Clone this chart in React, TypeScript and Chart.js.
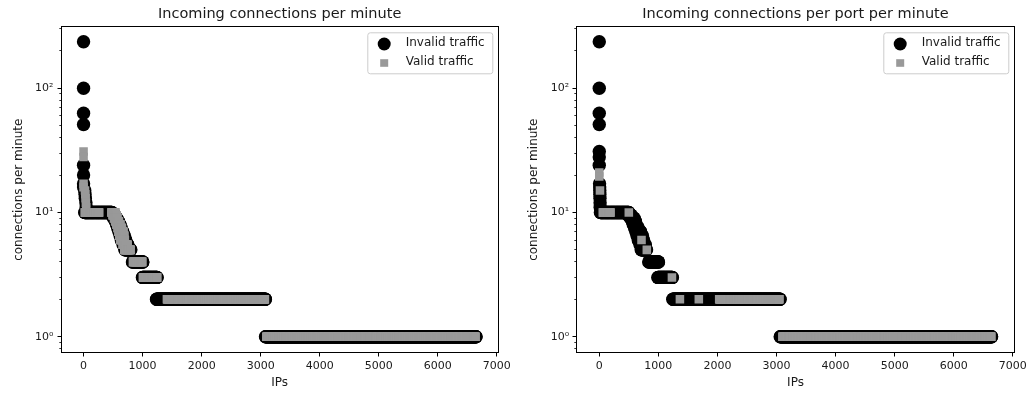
import React, { useEffect, useRef } from "react";
import { Chart, registerables } from "chart.js";

Chart.register(...registerables);

const FONT = "'DejaVu Sans', sans-serif";
const TEXT = "#1a1a1a";
const INVALID_COLOR = "#000000";
const VALID_COLOR = "#999999";
const SERIES_NAMES = ["Invalid traffic", "Valid traffic"];

// Axis ranges and ticks
const X_MIN = -382;
const X_MAX = 7025;
const Y_MIN = 0.743;
const Y_MAX = 313;
const xTickValues = [0, 1000, 2000, 3000, 4000, 5000, 6000, 7000];
const yTickValues = [1, 10, 100];
const yTickLabels = ["10\u2070", "10\u00b9", "10\u00b2"];
const yMinorTickValues = [0.8, 0.9, 2, 3, 4, 5, 6, 7, 8, 9, 20, 30, 40, 50, 60, 70, 80, 90, 200, 300];

type Run = [number, number, number]; // [first IP, last IP, connections per minute]

// ---- Left panel: Incoming connections per minute ----
const leftInvalidX = [0, 0, 0, 0, 0, 0, 0, 0, 20, 25, 30, 40, 45];
const leftInvalidY = [237, 100, 63, 51, 24, 20, 17, 16, 15, 14, 13, 12, 11];
const leftInvalidRuns: Run[] = [
  [20, 480, 10], [480, 525, 9.5], [510, 560, 9], [540, 590, 8.5], [560, 615, 8],
  [580, 640, 7.5], [600, 665, 7], [620, 690, 6.5], [640, 715, 6], [670, 750, 5.5],
  [700, 800, 5], [828, 1003, 4], [997, 1245, 3], [1236, 3079, 2], [3082, 6647, 1],
];
const leftValidX = [0, 0, 0, 0, 25, 30, 35, 40, 45];
const leftValidY = [31, 28, 17, 16, 15, 14, 13, 12, 11];
const leftValidRuns: Run[] = [
  [20, 265, 10], [470, 540, 10], [490, 560, 9.5], [515, 575, 9], [535, 600, 8.5],
  [555, 625, 8], [575, 650, 7.5], [590, 675, 7], [605, 690, 6.5], [620, 700, 6],
  [660, 745, 5.5], [690, 797, 5], [836, 995, 4], [1005, 1248, 3], [1412, 3072, 2],
  [3096, 6640, 1],
];

// ---- Right panel: Incoming connections per port per minute ----
const rightInvalidX = [0, 0, 0, 0, 0, 0, 0, 5, 7, 9, 10, 12, 14, 15];
const rightInvalidY = [237, 100, 63, 51, 31, 28, 24, 17, 16, 15, 14, 13, 12, 11];
const rightInvalidRuns: Run[] = [
  [20, 500, 10], [490, 540, 9.5], [530, 590, 9], [560, 610, 8.5], [575, 625, 8],
  [600, 660, 7.5], [620, 700, 7], [640, 730, 6.5], [660, 750, 6], [690, 780, 5.5],
  [710, 800, 5], [838, 1002, 4], [992, 1238, 3], [1245, 3060, 2], [3063, 6640, 1],
];
const rightValidX = [0, 0, 12, 500, 715, 805, 1230, 1365, 1685];
const rightValidY = [21, 19.5, 15, 10, 6, 5, 3, 2, 2];
const rightValidRuns: Run[] = [
  [60, 190, 10], [2030, 3050, 2], [3100, 6635, 1],
];

const RUN_STEP = 6;

function expand(xs: number[], ys: number[], runs: Run[]) {
  const pts: { x: number; y: number }[] = xs.map((x, i) => ({ x, y: ys[i] }));
  for (const [a, b, v] of runs) {
    for (let x = a; x < b; x += RUN_STEP) pts.push({ x, y: v });
    pts.push({ x: b, y: v });
  }
  return pts;
}

interface PanelDef {
  title: string;
  invalidX: number[];
  invalidY: number[];
  invalidRuns: Run[];
  validX: number[];
  validY: number[];
  validRuns: Run[];
  yAxisWidth: number;
  width: number;
}

const panels: PanelDef[] = [
  {
    title: "Incoming connections per minute",
    invalidX: leftInvalidX, invalidY: leftInvalidY, invalidRuns: leftInvalidRuns,
    validX: leftValidX, validY: leftValidY, validRuns: leftValidRuns,
    yAxisWidth: 61, width: 515,
  },
  {
    title: "Incoming connections per port per minute",
    invalidX: rightInvalidX, invalidY: rightInvalidY, invalidRuns: rightInvalidRuns,
    validX: rightValidX, validY: rightValidY, validRuns: rightValidRuns,
    yAxisWidth: 61.7, width: 516,
  },
];

function PanelChart({ panel }: { panel: PanelDef }) {
  const ref = useRef<HTMLCanvasElement>(null);
  useEffect(() => {
    if (!ref.current) return;
    const decor = {
      id: "mplDecor",
      afterDraw(chart: any) {
        const { ctx, chartArea: a, scales } = chart;
        const xs = scales.x;
        const ys = scales.y;
        ctx.save();
        ctx.strokeStyle = "#000";
        ctx.lineWidth = 1;
        const L = Math.floor(a.left) + 0.5;
        const R = Math.floor(a.right) + 0.5;
        const T = Math.floor(a.top) + 0.5;
        const B = Math.floor(a.bottom) + 0.5;
        ctx.strokeRect(L, T, R - L, B - T);
        ctx.beginPath();
        for (const v of xTickValues) {
          const px = Math.floor(xs.getPixelForValue(v)) + 0.5;
          ctx.moveTo(px, B);
          ctx.lineTo(px, B + 4);
        }
        for (const v of yTickValues) {
          const py = Math.floor(ys.getPixelForValue(v)) + 0.5;
          ctx.moveTo(L, py);
          ctx.lineTo(L - 4, py);
        }
        ctx.stroke();
        ctx.lineWidth = 0.8;
        ctx.beginPath();
        for (const v of yMinorTickValues) {
          const p = ys.getPixelForValue(v);
          if (p < a.top || p > a.bottom) continue;
          const py = Math.floor(p) + 0.5;
          ctx.moveTo(L, py);
          ctx.lineTo(L - 2.2, py);
        }
        ctx.stroke();

        // legend (matplotlib style)
        const bw = 125;
        const bh = 41;
        const bx = a.right - 6 - bw;
        const by = a.top + 5.6;
        ctx.beginPath();
        (ctx as any).roundRect(bx + 0.5, by + 0.5, bw, bh, 2.5);
        ctx.fillStyle = "rgba(255,255,255,0.8)";
        ctx.fill();
        ctx.strokeStyle = "#cccccc";
        ctx.lineWidth = 1;
        ctx.stroke();
        ctx.fillStyle = INVALID_COLOR;
        ctx.beginPath();
        ctx.arc(bx + 16.9, by + 11.7, 6.5, 0, Math.PI * 2);
        ctx.fill();
        ctx.fillStyle = VALID_COLOR;
        ctx.fillRect(bx + 16.9 - 4, by + 30.7 - 3.8, 8, 7.6);
        ctx.fillStyle = TEXT;
        ctx.font = `12px ${FONT}`;
        ctx.textBaseline = "alphabetic";
        ctx.textAlign = "left";
        ctx.fillText(chart.data.datasets[0].label, bx + 38.4, by + 13.7);
        ctx.fillText(chart.data.datasets[1].label, bx + 38.4, by + 32.4);
        ctx.restore();
      },
    };

    const chart = new Chart(ref.current, {
      type: "scatter",
      data: {
        datasets: [
          {
            label: SERIES_NAMES[0],
            data: expand(panel.invalidX, panel.invalidY, panel.invalidRuns),
            pointStyle: "circle",
            pointRadius: 6.7,
            pointBorderWidth: 0,
            backgroundColor: INVALID_COLOR,
            borderColor: INVALID_COLOR,
            order: 2,
          },
          {
            label: SERIES_NAMES[1],
            data: expand(panel.validX, panel.validY, panel.validRuns),
            pointStyle: "rect",
            pointRadius: 6.05,
            pointBorderWidth: 0,
            backgroundColor: VALID_COLOR,
            borderColor: VALID_COLOR,
            order: 1,
          },
        ],
      },
      options: {
        responsive: false,
        maintainAspectRatio: false,
        animation: false,
        events: [],
        devicePixelRatio: 1,
        layout: { padding: { left: 0, right: 16.7, top: 0, bottom: 0 }, autoPadding: false },
        plugins: {
          legend: { display: false },
          tooltip: { enabled: false },
          title: {
            display: true,
            text: panel.title,
            fullSize: false,
            color: TEXT,
            font: { family: FONT, size: 14.5, weight: "normal" },
            padding: { top: 5.3, bottom: 4 },
          },
        },
        scales: {
          x: {
            type: "linear",
            min: X_MIN,
            max: X_MAX,
            bounds: "data",
            grid: { display: false, drawTicks: true, tickLength: 4 },
            border: { display: false },
            ticks: {
              color: TEXT,
              font: { family: FONT, size: 11 },
              padding: 3,
              autoSkip: false,
              maxRotation: 0,
              callback: (v: any) => String(v),
            },
            title: {
              display: true,
              text: "IPs",
              color: TEXT,
              font: { family: FONT, size: 12 },
              padding: { top: 0, bottom: 3.8 },
            },
            afterBuildTicks: (s: any) => {
              s.ticks = xTickValues.map((v) => ({ value: v }));
            },
            afterFit: (s: any) => {
              s.height = 41.3;
              s.paddingLeft = 0;
              s.paddingRight = 0;
            },
          },
          y: {
            type: "logarithmic",
            min: Y_MIN,
            max: Y_MAX,
            bounds: "data",
            grid: { display: false, drawTicks: true, tickLength: 4 },
            border: { display: false },
            ticks: {
              color: TEXT,
              font: { family: FONT, size: 11 },
              padding: 3.5,
              autoSkip: false,
              callback: (v: any) => {
                const i = yTickValues.indexOf(Number(v));
                return i >= 0 ? yTickLabels[i] : "";
              },
            },
            title: {
              display: true,
              text: "connections per minute",
              color: TEXT,
              font: { family: FONT, size: 12 },
              padding: { top: 11.8, bottom: 0 },
            },
            afterBuildTicks: (s: any) => {
              s.ticks = yTickValues.map((v) => ({ value: v, major: true }));
            },
            afterFit: (s: any) => {
              s.width = panel.yAxisWidth;
              s.paddingTop = 0;
              s.paddingBottom = 0;
            },
          },
        },
      },
      plugins: [decor],
    } as any);
    return () => chart.destroy();
  }, [panel]);
  return (
    <canvas
      ref={ref}
      width={panel.width}
      height={394}
      style={{ display: "block", width: panel.width, height: 394 }}
    />
  );
}

export default function App() {
  return (
    <div style={{ position: "fixed", left: 0, top: 0, width: 1031, height: 394, background: "#fff" }}>
      <div style={{ position: "absolute", left: 0, top: 0 }}>
        <PanelChart panel={panels[0]} />
      </div>
      <div style={{ position: "absolute", left: 515, top: 0 }}>
        <PanelChart panel={panels[1]} />
      </div>
    </div>
  );
}
